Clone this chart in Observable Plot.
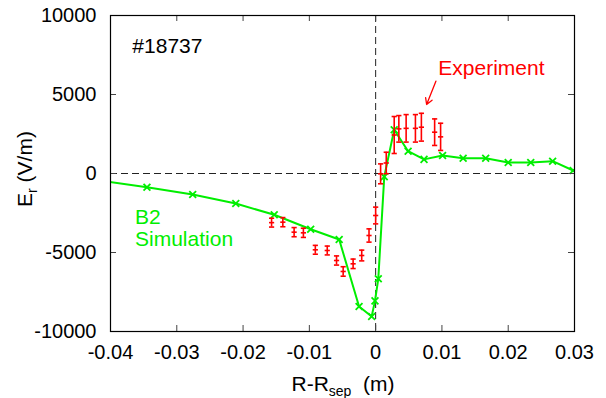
<!DOCTYPE html>
<html><head><meta charset="utf-8">
<script src="https://cdn.jsdelivr.net/npm/d3@7"></script>
<script src="https://cdn.jsdelivr.net/npm/@observablehq/plot@0.6"></script>
<style>body{margin:0;background:#fff}</style>
</head><body><div id="chart"></div>
<script>
// B2 simulation (green line with x markers)
const simX = [-0.042, -0.0345, -0.0276, -0.0211, -0.0153, -0.0098, -0.0055, -0.0025, -0.0006, -0.0001, 0.0004, 0.0013, 0.0028, 0.0049, 0.0073, 0.0101, 0.0132, 0.0166, 0.0200, 0.0234, 0.0267, 0.0298];
const simY = [-420, -867, -1329, -1899, -2614, -3525, -4177, -8418, -9051, -8060, -6665, -200, 2766, 1411, 895, 1139, 968, 968, 696, 696, 778, 190];
// Experiment (red error bars)
const expX = [-0.0157, -0.0140, -0.0123, -0.0109, -0.0091, -0.0073, -0.0059, -0.0049, -0.0034, -0.0021, -0.0010, 0.0000, 0.00075, 0.0016, 0.0028, 0.0035, 0.0046, 0.0060, 0.0069, 0.0089, 0.0098];
const expY = [-3110, -3080, -3713, -3755, -4829, -4873, -5506, -6200, -5716, -5190, -3924, -2658, -21, 665, 2436, 2826, 2858, 2858, 2930, 2615, 2320];
const expErr = [280, 290, 290, 290, 280, 280, 290, 300, 300, 340, 420, 530, 630, 680, 1170, 840, 870, 870, 880, 840, 860];
// axes
const xTicks = [-0.04, -0.03, -0.02, -0.01, 0, 0.01, 0.02, 0.03];
const xTickLabels = ["-0.04", "-0.03", "-0.02", "-0.01", "0", "0.01", "0.02", "0.03"];
const yTicks = [-10000, -5000, 0, 5000, 10000];
const yTickLabels = ["-10000", "-5000", "0", "5000", "10000"];
// annotations
const noteText = ["#18737", "B2", "Simulation", "Experiment"];
const noteX = [-0.0367, -0.0363, -0.0363, 0.00946];
const noteY = [7658, -3165, -4620, 6247];
const noteColor = ["black", "#00ee00", "#00ee00", "red"];
const arrowFrom = [0.00909, 5842];
const arrowTo = [0.00769, 4367];

const green = "#00ee00", red = "#ff0000";
const sim = simX.map((x, i) => ({x, y: simY[i]}));
const exp = expX.map((x, i) => ({x, y: expY[i], e: expErr[i]}));
const caps = exp.flatMap(d => [{x: d.x, y: d.y - d.e}, {x: d.x, y: d.y + d.e}, {x: d.x, y: d.y}]);
const notes = noteText.map((t, i) => ({text: t, x: noteX[i], y: noteY[i], color: noteColor[i]}));
const arrows = [{x1: arrowFrom[0], y1: arrowFrom[1], x2: arrowTo[0], y2: arrowTo[1]}];

const W = 606, H = 398, mL = 110, mR = 32, mT = 15, mB = 67;
const innerW = W - mL - mR, innerH = H - mT - mB;
const tk = 6;
const hline = {draw(ctx, size) { const r = Math.sqrt(size / Math.PI); ctx.moveTo(-r, 0); ctx.lineTo(r, 0); }};

const plot = Plot.plot({
  width: W, height: H,
  marginLeft: mL, marginRight: mR, marginTop: mT, marginBottom: mB,
  style: {fontFamily: "'Liberation Sans', Arial, Helvetica, sans-serif", fontSize: "20px", color: "black", background: "white"},
  x: {domain: [-0.04, 0.03]},
  y: {domain: [-10000, 10000]},
  marks: [
    Plot.ruleY([0], {stroke: "#222", strokeDasharray: "7,4", strokeWidth: 1}),
    Plot.ruleX([0], {stroke: "#222", strokeDasharray: "7,4", strokeWidth: 1}),
    Plot.line(sim, {x: "x", y: "y", stroke: green, strokeWidth: 2, clip: true}),
    Plot.dot(sim, {x: "x", y: "y", symbol: "times", r: 3.2, stroke: green, strokeWidth: 1.8, clip: true}),
    Plot.ruleX(exp, {x: "x", y1: d => d.y - d.e, y2: d => d.y + d.e, stroke: red, strokeWidth: 1.6}),
    Plot.dot(caps, {x: "x", y: "y", symbol: hline, r: 2.6, stroke: red, fill: "none", strokeWidth: 1.6}),
    ...notes.map(n => Plot.text([n], {x: "x", y: "y", text: "text", fill: n.color, textAnchor: "start", lineAnchor: "bottom", fontSize: 21})),
    Plot.arrow(arrows, {x1: "x1", y1: "y1", x2: "x2", y2: "y2", stroke: red, strokeWidth: 1.3, headLength: 8}),
    Plot.tickX(xTicks, {x: d => d, insetTop: innerH - tk, stroke: "#444"}),
    Plot.tickX(xTicks, {x: d => d, insetBottom: innerH - tk, stroke: "#444"}),
    Plot.tickY(yTicks, {y: d => d, insetRight: innerW - tk, stroke: "#444"}),
    Plot.tickY(yTicks, {y: d => d, insetLeft: innerW - tk, stroke: "#444"}),
    Plot.axisX(xTicks, {tickSize: 0, tickPadding: 13, tickFormat: d => xTickLabels[xTicks.indexOf(d)], label: null, fontSize: 20}),
    Plot.axisY(yTicks, {tickSize: 0, tickPadding: 14, tickFormat: d => yTickLabels[yTicks.indexOf(d)], label: null, fontSize: 20}),
    Plot.frame({stroke: "black", strokeWidth: 1.2})
  ]
});
document.getElementById("chart").appendChild(plot);

const svg = d3.select(plot);
const xl = svg.append("text").attr("x", 343).attr("y", 391).attr("text-anchor", "middle")
  .attr("font-size", 21).attr("fill", "black").style("white-space", "pre");
xl.append("tspan").text("R-R");
xl.append("tspan").attr("font-size", 14).attr("dy", 5).text("sep");
xl.append("tspan").attr("dy", -5).text("  (m)");
const yl = svg.append("text").attr("transform", "translate(32,169) rotate(-90)").attr("text-anchor", "middle")
  .attr("font-size", 21).attr("fill", "black").style("white-space", "pre");
yl.append("tspan").text("E");
yl.append("tspan").attr("font-size", 14).attr("dy", 5).text("r");
yl.append("tspan").attr("dy", -5).text(" (V/m)");
</script>
</body></html>
